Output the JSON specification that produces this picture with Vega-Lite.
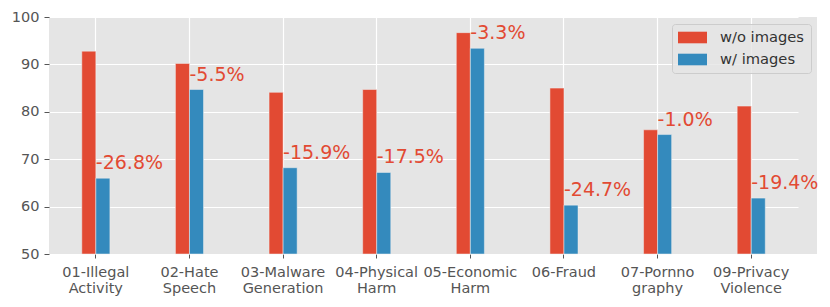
{
  "$schema": "https://vega.github.io/schema/vega-lite/v6.json",
  "width": 768,
  "height": 237,
  "autosize": {"type": "none"},
  "padding": {"left": 49, "top": 17, "right": 13, "bottom": 53},
  "background": "white",
  "config": {"view": {"fill": "#E5E5E5", "stroke": null}, "font": "DejaVu Sans"},
  "datasets": {
    "bars": [
      {"category": "01-Illegal Activity", "series": "w/o images", "value": 92.8},
      {"category": "01-Illegal Activity", "series": "w/ images", "value": 66.0},
      {"category": "02-Hate Speech", "series": "w/o images", "value": 90.2},
      {"category": "02-Hate Speech", "series": "w/ images", "value": 84.7},
      {"category": "03-Malware Generation", "series": "w/o images", "value": 84.1},
      {"category": "03-Malware Generation", "series": "w/ images", "value": 68.2},
      {"category": "04-Physical Harm", "series": "w/o images", "value": 84.7},
      {"category": "04-Physical Harm", "series": "w/ images", "value": 67.2},
      {"category": "05-Economic Harm", "series": "w/o images", "value": 96.7},
      {"category": "05-Economic Harm", "series": "w/ images", "value": 93.4},
      {"category": "06-Fraud", "series": "w/o images", "value": 85.0},
      {"category": "06-Fraud", "series": "w/ images", "value": 60.3},
      {"category": "07-Pornno graphy", "series": "w/o images", "value": 76.2},
      {"category": "07-Pornno graphy", "series": "w/ images", "value": 75.2},
      {"category": "09-Privacy Violence", "series": "w/o images", "value": 81.2},
      {"category": "09-Privacy Violence", "series": "w/ images", "value": 61.8}
    ],
    "labels": [
      {"category": "01-Illegal Activity", "blue": 66.0, "label": "-26.8%"},
      {"category": "02-Hate Speech", "blue": 84.7, "label": "-5.5%"},
      {"category": "03-Malware Generation", "blue": 68.2, "label": "-15.9%"},
      {"category": "04-Physical Harm", "blue": 67.2, "label": "-17.5%"},
      {"category": "05-Economic Harm", "blue": 93.4, "label": "-3.3%"},
      {"category": "06-Fraud", "blue": 60.3, "label": "-24.7%"},
      {"category": "07-Pornno graphy", "blue": 75.2, "label": "-1.0%"},
      {"category": "09-Privacy Violence", "blue": 61.8, "label": "-19.4%"}
    ]
  },
  "layer": [
    {
      "data": {"name": "bars"},
      "mark": {"type": "bar", "stroke": "#EEEEEE", "strokeWidth": 0.5},
      "encoding": {
        "x": {
          "field": "category", "type": "nominal", "sort": null,
          "scale": {"range": [0, 749], "paddingInner": 0, "paddingOuter": 0},
          "axis": {
            "title": null, "labelAngle": 0, "bandPosition": 0.5, "grid": true,
            "gridColor": "white", "gridWidth": 1.2, "domain": false,
            "tickColor": "#555555", "tickSize": 4, "labelPadding": 7,
            "labelFontSize": 14.5, "labelColor": "#555555", "labelLineHeight": 16,
            "labelExpr": "split(datum.label, ' ')"
          }
        },
        "xOffset": {
          "field": "series", "type": "nominal",
          "sort": ["w/o images", "w/ images"],
          "scale": {"range": [32.8, 60.9], "paddingInner": 0, "paddingOuter": 0}
        },
        "y": {
          "field": "value", "type": "quantitative",
          "scale": {"domain": [50, 100], "zero": false, "nice": false},
          "axis": {
            "title": null, "values": [50, 60, 70, 80, 90, 100], "grid": true,
            "gridColor": "white", "gridWidth": 1.2, "domain": false,
            "tickColor": "#555555", "tickSize": 5, "labelPadding": 5,
            "labelFontSize": 14.5, "labelColor": "#555555"
          }
        },
        "y2": {"datum": 50},
        "color": {
          "field": "series", "type": "nominal",
          "scale": {"domain": ["w/o images", "w/ images"], "range": ["#E24A33", "#348ABD"]},
          "legend": {
            "orient": "none", "legendX": 623, "legendY": 7, "title": null,
            "symbolType": "M-2,-0.8H2V0.8H-2Z", "symbolSize": 210,
            "symbolOffset": 7, "symbolStrokeWidth": 0, "symbolOpacity": 1,
            "labelFontSize": 14.7, "labelColor": "#333333", "labelOffset": 20,
            "rowPadding": 6,
            "fillColor": "rgba(229,229,229,0.8)", "strokeColor": "#CCCCCC",
            "cornerRadius": 3, "padding": 6
          }
        }
      }
    },
    {
      "data": {"name": "labels"},
      "mark": {"type": "text", "align": "left", "baseline": "alphabetic", "dy": -9, "fontSize": 19, "color": "#E24A33"},
      "encoding": {
        "x": {"field": "category", "type": "nominal", "sort": null},
        "y": {"field": "blue", "type": "quantitative"},
        "text": {"field": "label"}
      }
    }
  ]
}
